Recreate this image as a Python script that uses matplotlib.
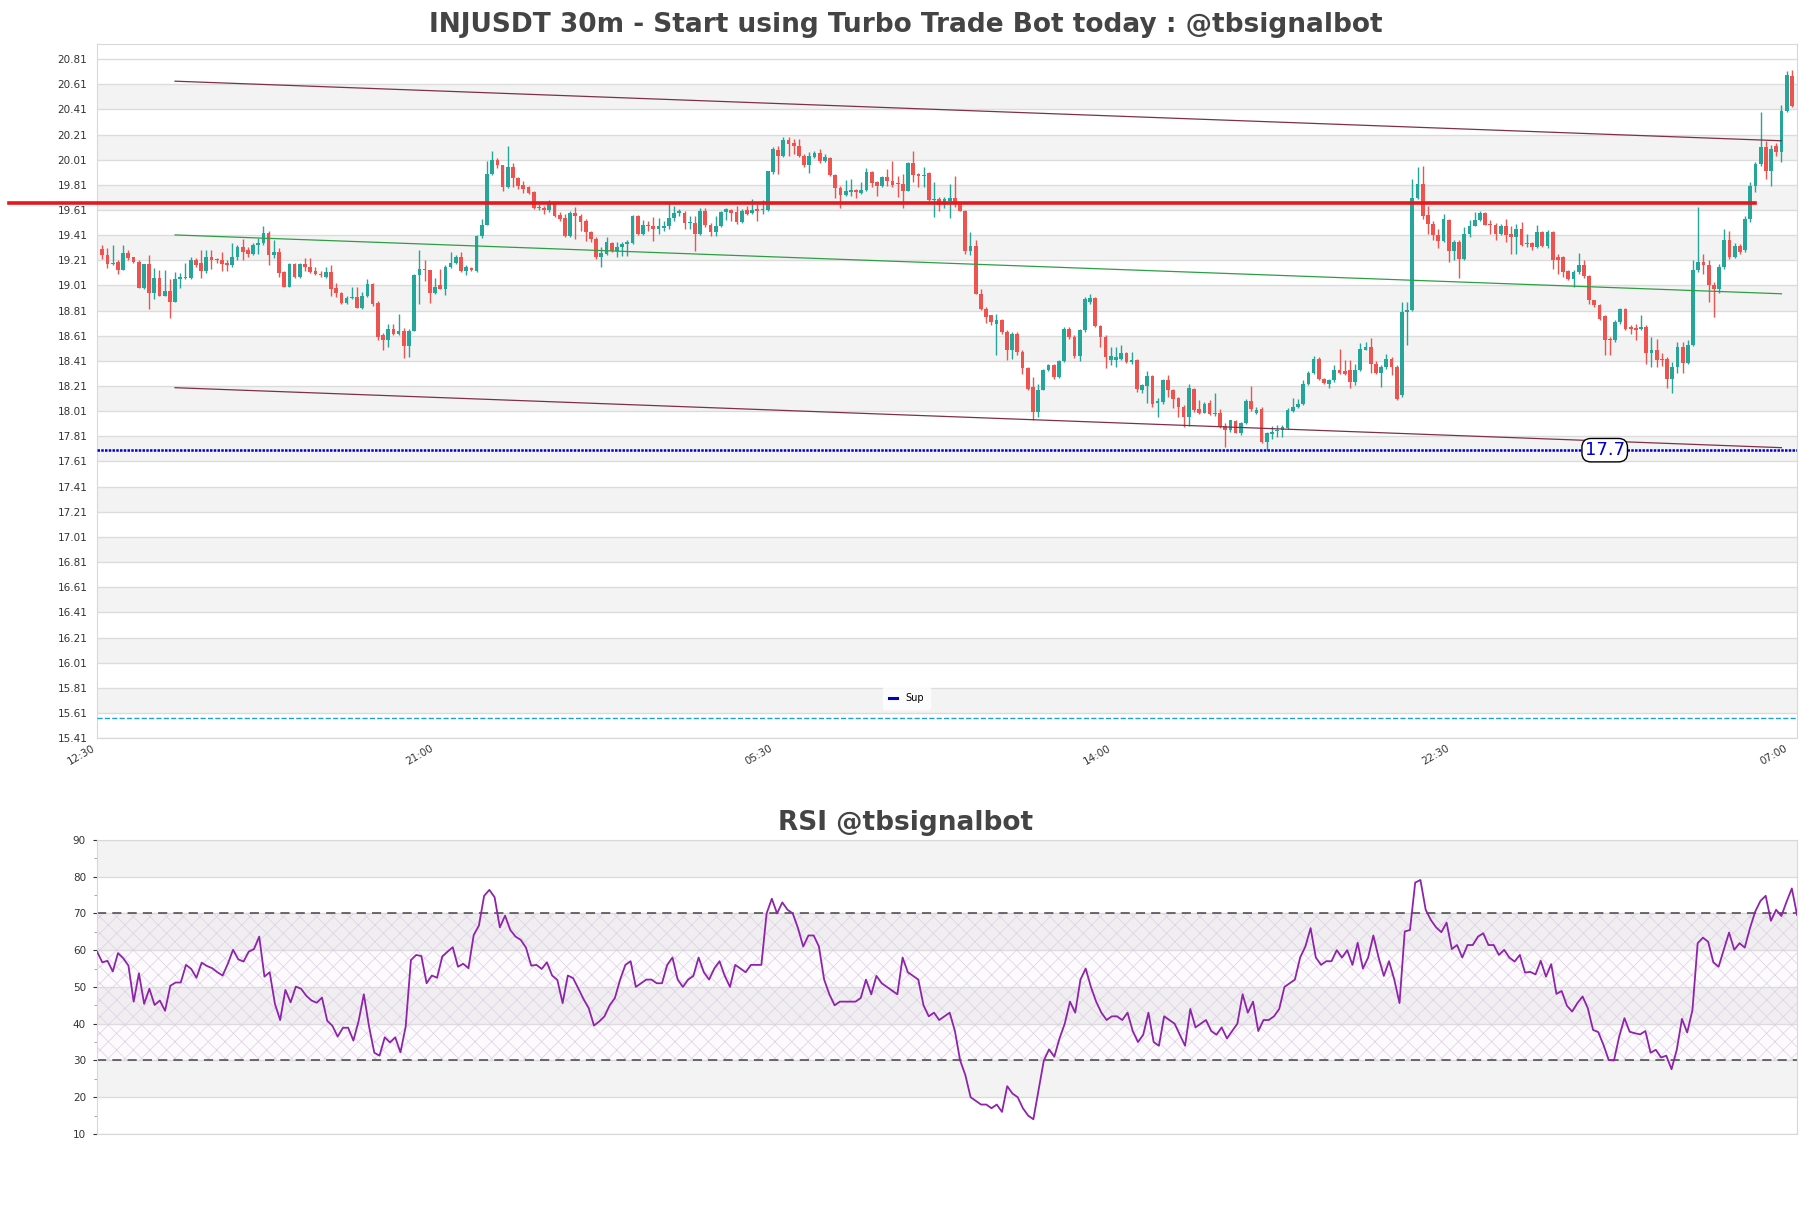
import numpy as np
import matplotlib.pyplot as plt
from matplotlib.ticker import MultipleLocator

title = "INJUSDT 30m - Start using Turbo Trade Bot today : @tbsignalbot"
rsi_title = "RSI @tbsignalbot"
time_labels = ["12:30", "21:00", "05:30", "14:00", "22:30", "07:00"]

opens = [
    19.30, 19.255, 19.18, 19.195, 19.13, 19.265, 19.235, 19.20, 18.99, 19.18,
    18.95, 19.07, 18.93, 18.97, 18.88, 19.06, 19.07, 19.07, 19.21, 19.19,
    19.125, 19.235, 19.22, 19.215, 19.19, 19.17, 19.235, 19.32, 19.29, 19.26,
    19.33, 19.345, 19.425, 19.25, 19.275, 19.12, 19.00, 19.18, 19.08, 19.18,
    19.16, 19.125, 19.10, 19.08, 19.12, 18.99, 18.95, 18.87, 18.91, 18.92,
    18.83, 18.925, 19.025, 18.87, 18.615, 18.58, 18.665, 18.625, 18.65, 18.525,
    18.65, 19.09, 19.14, 19.13, 18.95, 19.01, 18.985, 19.155, 19.19, 19.235,
    19.125, 19.15, 19.125, 19.40, 19.495, 19.90, 20.01, 19.965, 19.79, 19.95,
    19.865, 19.81, 19.79, 19.751, 19.627, 19.627, 19.611, 19.672, 19.574, 19.547,
    19.40, 19.59, 19.566, 19.52, 19.434, 19.38, 19.235, 19.262, 19.346, 19.288,
    19.315, 19.336, 19.346, 19.566, 19.42, 19.494, 19.487, 19.46, 19.468, 19.48,
    19.547, 19.585, 19.59, 19.505, 19.51, 19.42, 19.60, 19.494, 19.434, 19.48,
    19.592, 19.61, 19.592, 19.513, 19.611, 19.585, 19.619, 19.611, 19.611, 19.91,
    20.087, 20.042, 20.17, 20.14, 20.12, 20.042, 19.97, 20.034, 20.063, 19.997,
    20.024, 19.891, 19.785, 19.732, 19.751, 19.769, 19.743, 19.769, 19.91, 19.83,
    19.804, 19.875, 19.838, 19.823, 19.817, 19.764, 19.981, 19.897, 19.883, 19.902,
    19.69, 19.698, 19.653, 19.685, 19.706, 19.664, 19.606, 19.288, 19.328, 18.944,
    18.825, 18.772, 18.706, 18.738, 18.64, 18.50, 18.627, 18.481, 18.35, 18.204,
    18.005, 18.182, 18.336, 18.376, 18.283, 18.41, 18.667, 18.60, 18.447, 18.653,
    18.88, 18.91, 18.685, 18.60, 18.415, 18.42, 18.429, 18.474, 18.402, 18.42,
    18.182, 18.209, 18.288, 18.077, 18.085, 18.257, 18.182, 18.119, 18.045, 17.965,
    18.19, 18.024, 17.997, 18.077, 17.987, 17.992, 17.892, 17.86, 17.934, 17.833,
    17.913, 18.093, 17.992, 18.024, 17.767, 17.828, 17.849, 17.857, 17.873, 18.013,
    18.04, 18.066, 18.225, 18.315, 18.429, 18.27, 18.23, 18.257, 18.336, 18.33,
    18.336, 18.244, 18.336, 18.50, 18.521, 18.389, 18.31, 18.362, 18.429, 18.362,
    18.138, 18.799, 18.812, 19.704, 19.817, 19.571, 19.50, 19.408, 19.36, 19.532,
    19.284, 19.355, 19.223, 19.416, 19.487, 19.527, 19.585, 19.502, 19.495, 19.416,
    19.487, 19.42, 19.395, 19.461, 19.337, 19.347, 19.316, 19.435, 19.321, 19.435,
    19.236, 19.236, 19.125, 19.064, 19.117, 19.17, 19.082, 18.892, 18.853, 18.765,
    18.588, 18.575, 18.72, 18.826, 18.68, 18.675, 18.66, 18.68, 18.474, 18.495,
    18.429, 18.429, 18.27, 18.363, 18.522, 18.395, 18.535, 19.13, 19.196, 19.17,
    19.01, 18.984, 19.156, 19.368, 19.236, 19.328, 19.294, 19.54, 19.799, 19.976,
    20.108, 19.923, 20.122, 20.074, 20.40, 20.677,
]
highs = [
    19.335, 19.31, 19.335, 19.215, 19.335, 19.295, 19.24, 19.21, 19.18, 19.25,
    19.15, 19.13, 19.13, 19.06, 19.12, 19.11, 19.19, 19.235, 19.225, 19.29,
    19.295, 19.295, 19.23, 19.275, 19.215, 19.35, 19.335, 19.38, 19.32, 19.35,
    19.39, 19.48, 19.44, 19.37, 19.31, 19.125, 19.19, 19.19, 19.19, 19.23,
    19.225, 19.16, 19.125, 19.16, 19.17, 19.03, 18.96, 18.925, 19.00, 19.00,
    18.96, 19.065, 19.03, 18.885, 18.63, 18.705, 18.705, 18.785, 18.67, 18.665,
    19.10, 19.295, 19.215, 19.135, 19.07, 19.14, 19.175, 19.28, 19.25, 19.275,
    19.17, 19.16, 19.415, 19.54, 20.00, 20.08, 20.025, 19.97, 20.12, 19.985,
    19.87, 19.84, 19.80, 19.759, 19.658, 19.645, 19.69, 19.685, 19.592, 19.579,
    19.606, 19.632, 19.579, 19.54, 19.447, 19.394, 19.315, 19.394, 19.354, 19.354,
    19.354, 19.373, 19.574, 19.574, 19.532, 19.526, 19.558, 19.547, 19.52, 19.664,
    19.645, 19.619, 19.60, 19.566, 19.566, 19.627, 19.627, 19.505, 19.566, 19.606,
    19.627, 19.619, 19.645, 19.619, 19.645, 19.698, 19.658, 19.69, 19.923, 20.108,
    20.12, 20.193, 20.188, 20.175, 20.175, 20.055, 20.069, 20.082, 20.095, 20.055,
    20.034, 19.897, 19.804, 19.849, 19.857, 19.777, 19.83, 19.944, 19.918, 19.844,
    19.883, 19.936, 20.002, 19.883, 19.897, 19.99, 20.077, 19.902, 19.949, 19.91,
    19.83, 19.717, 19.717, 19.82, 19.883, 19.672, 19.611, 19.434, 19.373, 18.984,
    18.838, 18.772, 18.786, 18.746, 18.653, 18.64, 18.64, 18.495, 18.362, 18.283,
    18.23, 18.349, 18.389, 18.389, 18.42, 18.68, 18.68, 18.614, 18.667, 18.918,
    18.939, 18.918, 18.693, 18.614, 18.521, 18.521, 18.534, 18.481, 18.481, 18.429,
    18.23, 18.33, 18.296, 18.119, 18.27, 18.296, 18.19, 18.124, 18.058, 18.23,
    18.198, 18.103, 18.085, 18.103, 18.151, 18.024, 17.913, 17.944, 17.944, 17.926,
    18.111, 18.209, 18.045, 18.04, 17.847, 17.892, 17.899, 17.899, 18.032, 18.119,
    18.111, 18.257, 18.33, 18.447, 18.442, 18.278, 18.27, 18.376, 18.508, 18.42,
    18.415, 18.389, 18.553, 18.561, 18.595, 18.41, 18.38, 18.468, 18.442, 18.376,
    18.878, 18.878, 19.857, 19.95, 19.963, 19.646, 19.519, 19.46, 19.58, 19.54,
    19.368, 19.368, 19.474, 19.527, 19.593, 19.601, 19.593, 19.532, 19.506, 19.501,
    19.54, 19.487, 19.501, 19.514, 19.421, 19.355, 19.495, 19.442, 19.45, 19.442,
    19.262, 19.241, 19.136, 19.136, 19.268, 19.21, 19.091, 18.898, 18.866, 18.773,
    18.601, 18.734, 18.834, 18.834, 18.694, 18.707, 18.773, 18.694, 18.601, 18.588,
    18.469, 18.442, 18.403, 18.562, 18.562, 18.575, 19.21, 19.632, 19.26, 19.21,
    19.037, 19.183, 19.46, 19.44, 19.35, 19.341, 19.566, 19.831, 19.995, 20.386,
    20.161, 20.127, 20.143, 20.445, 20.717, 20.725,
]
lows = [
    19.22, 19.15, 19.175, 19.10, 19.13, 19.215, 19.19, 18.99, 18.985, 18.825,
    18.905, 18.925, 18.925, 18.75, 18.88, 18.99, 19.065, 19.065, 19.16, 19.07,
    19.11, 19.145, 19.19, 19.125, 19.125, 19.16, 19.215, 19.21, 19.24, 19.255,
    19.26, 19.335, 19.17, 19.23, 19.075, 19.00, 19.00, 19.07, 19.07, 19.125,
    19.11, 19.09, 19.08, 19.07, 18.925, 18.92, 18.865, 18.865, 18.905, 18.83,
    18.825, 18.92, 18.85, 18.58, 18.50, 18.52, 18.62, 18.615, 18.43, 18.445,
    18.645, 18.86, 19.045, 18.87, 18.94, 18.98, 18.935, 19.15, 19.18, 19.12,
    19.095, 19.125, 19.12, 19.39, 19.49, 19.89, 19.945, 19.765, 19.785, 19.79,
    19.78, 19.745, 19.738, 19.619, 19.611, 19.58, 19.592, 19.553, 19.526, 19.394,
    19.394, 19.38, 19.447, 19.367, 19.354, 19.222, 19.156, 19.256, 19.275, 19.235,
    19.248, 19.248, 19.336, 19.415, 19.415, 19.447, 19.362, 19.42, 19.447, 19.46,
    19.526, 19.566, 19.46, 19.46, 19.288, 19.415, 19.473, 19.407, 19.407, 19.473,
    19.532, 19.526, 19.50, 19.505, 19.574, 19.58, 19.526, 19.58, 19.606, 19.897,
    19.897, 20.034, 20.042, 20.055, 20.029, 19.955, 19.902, 20.024, 19.981, 19.99,
    19.883, 19.706, 19.627, 19.725, 19.725, 19.706, 19.738, 19.764, 19.79, 19.725,
    19.79, 19.804, 19.796, 19.711, 19.627, 19.759, 19.83, 19.796, 19.79, 19.685,
    19.553, 19.606, 19.627, 19.55, 19.632, 19.60, 19.262, 19.256, 18.939, 18.812,
    18.712, 18.693, 18.455, 18.627, 18.415, 18.429, 18.455, 18.304, 18.177, 17.944,
    17.965, 18.177, 18.33, 18.27, 18.278, 18.402, 18.587, 18.437, 18.41, 18.64,
    18.86, 18.68, 18.521, 18.35, 18.376, 18.363, 18.415, 18.394, 18.389, 18.164,
    18.156, 18.077, 18.04, 17.965, 18.071, 18.124, 18.032, 17.965, 17.881, 17.892,
    18.005, 17.987, 17.992, 17.979, 17.971, 17.873, 17.728, 17.847, 17.833, 17.82,
    17.907, 18.013, 17.987, 17.754, 17.701, 17.786, 17.807, 17.807, 17.865, 18.005,
    18.032, 18.058, 18.217, 18.304, 18.257, 18.225, 18.198, 18.244, 18.304, 18.296,
    18.198, 18.217, 18.33, 18.495, 18.315, 18.302, 18.204, 18.349, 18.296, 18.098,
    18.124, 18.535, 18.804, 19.698, 19.54, 19.421, 19.368, 19.307, 19.355, 19.197,
    19.215, 19.072, 19.215, 19.395, 19.48, 19.522, 19.488, 19.421, 19.368, 19.408,
    19.355, 19.263, 19.263, 19.321, 19.316, 19.294, 19.31, 19.316, 19.31, 19.144,
    19.104, 19.077, 19.051, 18.998, 19.104, 19.072, 18.866, 18.84, 18.739, 18.456,
    18.456, 18.561, 18.707, 18.659, 18.622, 18.58, 18.654, 18.384, 18.358, 18.363,
    18.368, 18.191, 18.151, 18.31, 18.31, 18.384, 18.527, 19.12, 19.10, 18.878,
    18.759, 18.952, 19.143, 19.222, 19.228, 19.262, 19.275, 19.513, 19.757, 19.963,
    19.857, 19.804, 20.042, 19.995, 20.392, 20.426,
]
closes = [
    19.255, 19.18, 19.19, 19.13, 19.265, 19.23, 19.20, 18.99, 19.18, 18.95,
    19.07, 18.93, 18.97, 18.88, 19.06, 19.075, 19.08, 19.21, 19.175, 19.125,
    19.235, 19.215, 19.21, 19.18, 19.17, 19.235, 19.32, 19.275, 19.26, 19.335,
    19.345, 19.425, 19.25, 19.275, 19.11, 19.00, 19.18, 19.08, 19.18, 19.16,
    19.12, 19.10, 19.09, 19.12, 18.985, 18.95, 18.87, 18.91, 18.915, 18.83,
    18.925, 19.025, 18.86, 18.60, 18.58, 18.665, 18.625, 18.65, 18.525, 18.65,
    19.09, 19.14, 19.13, 18.95, 19.00, 18.985, 19.16, 19.19, 19.24, 19.125,
    19.155, 19.13, 19.40, 19.495, 19.90, 20.01, 19.965, 19.79, 19.95, 19.865,
    19.80, 19.775, 19.743, 19.627, 19.637, 19.611, 19.672, 19.566, 19.54, 19.40,
    19.59, 19.566, 19.513, 19.434, 19.38, 19.235, 19.267, 19.354, 19.288, 19.32,
    19.341, 19.354, 19.566, 19.42, 19.494, 19.48, 19.46, 19.48, 19.487, 19.547,
    19.59, 19.606, 19.505, 19.513, 19.42, 19.60, 19.494, 19.434, 19.487, 19.592,
    19.619, 19.585, 19.513, 19.606, 19.579, 19.611, 19.606, 19.619, 19.918, 20.095,
    20.042, 20.17, 20.135, 20.116, 20.042, 19.97, 20.042, 20.063, 19.997, 20.029,
    19.891, 19.785, 19.732, 19.759, 19.769, 19.751, 19.769, 19.91, 19.823, 19.804,
    19.875, 19.838, 19.812, 19.817, 19.764, 19.981, 19.891, 19.883, 19.891, 19.69,
    19.698, 19.653, 19.698, 19.706, 19.664, 19.606, 19.288, 19.328, 18.944, 18.825,
    18.759, 18.72, 18.733, 18.64, 18.50, 18.627, 18.481, 18.35, 18.19, 18.005,
    18.182, 18.336, 18.381, 18.283, 18.41, 18.667, 18.60, 18.447, 18.653, 18.905,
    18.91, 18.685, 18.60, 18.442, 18.447, 18.442, 18.474, 18.402, 18.42, 18.19,
    18.217, 18.288, 18.066, 18.093, 18.257, 18.182, 18.111, 18.04, 17.965, 18.198,
    18.019, 17.997, 18.071, 17.987, 17.997, 17.886, 17.86, 17.939, 17.838, 17.913,
    18.093, 18.024, 18.019, 17.767, 17.833, 17.847, 17.86, 17.881, 18.019, 18.04,
    18.071, 18.23, 18.315, 18.429, 18.27, 18.236, 18.257, 18.336, 18.315, 18.309,
    18.244, 18.336, 18.508, 18.521, 18.389, 18.31, 18.362, 18.429, 18.362, 18.111,
    18.799, 18.812, 19.704, 19.817, 19.566, 19.50, 19.408, 19.36, 19.535, 19.284,
    19.355, 19.223, 19.416, 19.487, 19.527, 19.585, 19.495, 19.488, 19.416, 19.487,
    19.408, 19.395, 19.461, 19.329, 19.347, 19.316, 19.435, 19.321, 19.435, 19.21,
    19.21, 19.117, 19.064, 19.117, 19.17, 19.082, 18.892, 18.853, 18.747, 18.58,
    18.575, 18.72, 18.826, 18.667, 18.66, 18.654, 18.68, 18.474, 18.495, 18.416,
    18.416, 18.27, 18.363, 18.522, 18.395, 18.535, 19.13, 19.196, 19.17, 19.01,
    18.984, 19.156, 19.368, 19.236, 19.328, 19.275, 19.54, 19.799, 19.976, 20.108,
    19.923, 20.095, 20.069, 20.40, 20.683, 20.439,
]

rsi = [
    59.6, 56.7, 57.1, 54.2, 59.2, 57.8, 55.8, 46.0, 53.7, 45.4,
    49.5, 45.1, 46.3, 43.5, 50.3, 51.2, 51.2, 56.0, 54.9, 52.5,
    56.6, 55.7, 55.1, 54.0, 53.1, 56.3, 60.1, 57.5, 56.9, 59.6,
    60.3, 63.7, 52.8, 54.0, 45.4, 41.0, 49.2, 45.8, 50.1, 49.5,
    47.6, 46.3, 45.7, 47.1, 40.8, 39.4, 36.5, 38.9, 38.9, 35.4,
    40.7, 48.0, 39.2, 32.1, 31.3, 36.3, 34.9, 36.3, 32.2, 39.2,
    57.3, 58.7, 58.4, 51.0, 53.1, 52.5, 58.3, 59.6, 60.8, 55.5,
    56.3, 55.1, 64.1, 66.7, 74.8, 76.4, 74.4, 66.2, 69.4, 65.5,
    63.7, 62.8, 60.7, 55.8, 56.0, 54.9, 56.7, 53.1, 51.9, 45.6,
    53.1, 52.4, 49.6, 46.7, 44.2, 39.5, 40.6, 42.0, 45.0, 47.0,
    52.0, 56.0, 57.0, 50.0, 51.0, 52.0, 52.0, 51.0, 51.0, 56.0,
    58.0, 52.0, 50.0, 52.0, 53.0, 58.0, 54.0, 52.0, 55.0, 57.0,
    53.0, 50.0, 56.0, 55.0, 54.0, 56.0, 56.0, 56.0, 70.0, 74.0,
    70.0, 73.0, 71.0, 70.0, 66.0, 61.0, 64.0, 64.0, 61.0, 52.0,
    48.0, 45.0, 46.0, 46.0, 46.0, 46.0, 47.0, 52.0, 48.0, 53.0,
    51.0, 50.0, 49.0, 48.0, 58.0, 54.0, 53.0, 52.0, 45.0, 42.0,
    43.0, 41.0, 42.0, 43.0, 38.0, 30.0, 26.0, 20.0, 19.0, 18.0,
    18.0, 17.0, 18.0, 16.0, 23.0, 21.0, 20.0, 17.0, 15.0, 14.0,
    22.0, 30.0, 33.0, 31.0, 36.0, 40.0, 46.0, 43.0, 52.0, 55.0,
    50.0, 46.0, 43.0, 41.0, 42.0, 42.0, 41.0, 43.0, 38.0, 35.0,
    37.0, 43.0, 35.0, 34.0, 42.0, 41.0, 40.0, 37.0, 34.0, 44.0,
    39.0, 40.0, 41.0, 38.0, 37.0, 39.0, 36.0, 38.0, 40.0, 48.0,
    43.0, 46.0, 38.0, 41.0, 41.0, 42.0, 44.0, 50.0, 51.0, 52.0,
    58.0, 61.0, 66.0, 58.0, 56.0, 57.0, 57.0, 60.0, 58.0, 60.0,
    56.0, 62.0, 55.0, 58.0, 64.0, 58.0, 53.0, 57.0, 52.0,
    45.6, 65.1, 65.5, 78.4, 79.1, 71.0, 68.2, 66.2, 64.9, 67.5,
    60.3, 61.4, 58.0, 61.4, 61.4, 63.7, 64.6, 61.4, 61.4, 58.7,
    60.1, 58.0, 56.9, 58.7, 53.9, 54.1, 53.4, 57.1, 52.8, 56.2,
    48.1, 48.9, 44.9, 43.3, 45.6, 47.4, 44.2, 38.3, 37.7, 34.2,
    30.1, 30.0, 36.5, 41.5, 37.8, 37.4, 37.1, 38.0, 32.1, 32.9,
    30.8, 31.3, 27.6, 32.9, 41.3, 37.6, 43.7, 61.9, 63.4, 62.3,
    56.7, 55.5, 60.2, 64.8, 60.1, 61.9, 60.7, 66.0, 70.5, 73.4,
    74.8, 68.0, 71.0, 69.3, 73.2, 76.8, 69.6,
]

# levels and trend lines
resistance = 19.665
support = 17.70
lower_level = 15.57
red_x = [-18, 318]
trend_x = [14, 323]
trend_upper = [20.635, 20.161]
trend_mid = [19.412, 18.944]
trend_lower = [18.197, 17.72]
label_x = 289

o = np.array(opens)
h = np.array(highs)
l = np.array(lows)
c = np.array(closes)
x = np.arange(len(c))

fig = plt.figure(figsize=(18.11, 12.08), dpi=100)
ax = fig.add_axes([0.0536, 0.389, 0.9387, 0.5745])
ax2 = fig.add_axes([0.0536, 0.0613, 0.9387, 0.2434])

band = '#f3f3f3'
grid = '#dcdcdc'

# price panel
yticks = np.round(np.arange(15.41, 20.82, 0.2), 2)
for k in range(1, len(yticks) - 1, 2):
    ax.axhspan(yticks[k], yticks[k + 1], color=band, zorder=0, lw=0)
ax.set_yticks(yticks)
ax.set_yticklabels(['%.2f' % t for t in yticks])
ax.yaxis.grid(True, color=grid, lw=1)
ax.set_axisbelow(True)

up = c >= o
colors = np.where(up, '#26a69a', '#ef5350')
ax.vlines(x, l, h, colors=colors, lw=1, zorder=3)
ax.bar(x, np.maximum(np.abs(c - o), 0.008), bottom=np.minimum(o, c),
       width=0.72, color=colors, zorder=3)

ax.plot(red_x, [resistance, resistance], color='#e8171c', lw=2.6,
        zorder=4, clip_on=False)
ax.plot(trend_x, trend_upper, color='#7e3046', lw=0.9, zorder=4)
ax.plot(trend_x, trend_mid, color='#2e9e43', lw=0.9, zorder=4)
ax.plot(trend_x, trend_lower, color='#7e3046', lw=0.9, zorder=4)
ax.axhline(support, color='#0000cc', lw=1.8, ls=(0, (1, 0.5)), zorder=4,
           label='Sup')
ax.axhline(lower_level, color='#1ba1d6', lw=1, ls='--', zorder=4)
ax.text(label_x, support, '17.7', color='#0000cc', fontsize=13,
        ha='center', va='center', zorder=5,
        bbox=dict(boxstyle='round,pad=0.15,rounding_size=0.5', fc='white',
                  ec='black', lw=1))

ax.set_xlim(-1, len(c))
ax.set_ylim(15.41, 20.93)
ax.set_xticks(np.arange(6) * 65.1 - 1)
ax.set_xticklabels(time_labels, rotation=30, ha='right')
ax.tick_params(axis='both', length=0, labelsize=7.5, colors='#333333')
ax.tick_params(axis='y', pad=7)
for s in ax.spines.values():
    s.set_color('#d8d8d8')
leg = ax.legend(loc='lower center', bbox_to_anchor=(0.476, 0.035),
                fontsize=7, handlelength=0.9, frameon=True, borderpad=0.6)
leg.get_frame().set_edgecolor('white')
leg.get_frame().set_facecolor('white')
for hdl in leg.legend_handles:
    hdl.set_linestyle('-')
    hdl.set_linewidth(2.2)

fig.text(0.5, 0.979, title, ha='center', va='center', fontsize=19,
         fontweight='bold', color='#444444')

# rsi panel
r = np.array(rsi)
xr = np.arange(len(r))
for lo in (20, 40, 60, 80):
    ax2.axhspan(lo, lo + 10, color=band, zorder=0, lw=0)
plt.rcParams['hatch.linewidth'] = 0.5
ax2.fill_between([0, len(r) - 1], 30, 70, facecolor='#7b1fa2', alpha=0.02,
                 lw=0, zorder=0.5)
ax2.fill_between([0, len(r) - 1], 30, 70, facecolor='none', hatch='xx',
                 edgecolor='#dcd0e2', lw=0, zorder=0.6)
ax2.axhline(70, color='#444444', lw=1.1, ls=(0, (6, 4)), zorder=2)
ax2.axhline(30, color='#444444', lw=1.1, ls=(0, (6, 4)), zorder=2)
ax2.plot(xr, r, color='#8e24aa', lw=1.3, zorder=3)
ax2.set_xlim(0, len(r) - 1)
ax2.set_ylim(10, 90)
ax2.set_yticks(range(10, 91, 10))
ax2.yaxis.set_minor_locator(MultipleLocator(5))
ax2.yaxis.grid(True, color=grid, lw=1)
ax2.set_axisbelow(True)
ax2.set_xticks([])
ax2.tick_params(axis='y', which='major', length=3, labelsize=7.5,
                colors='#333333', pad=5)
ax2.tick_params(axis='y', which='minor', length=2, colors='#999999')
for s in ax2.spines.values():
    s.set_color('#d8d8d8')

fig.text(0.5, 0.319, rsi_title, ha='center', va='center', fontsize=19,
         fontweight='bold', color='#444444')

fig.savefig('out.png', dpi=100)
